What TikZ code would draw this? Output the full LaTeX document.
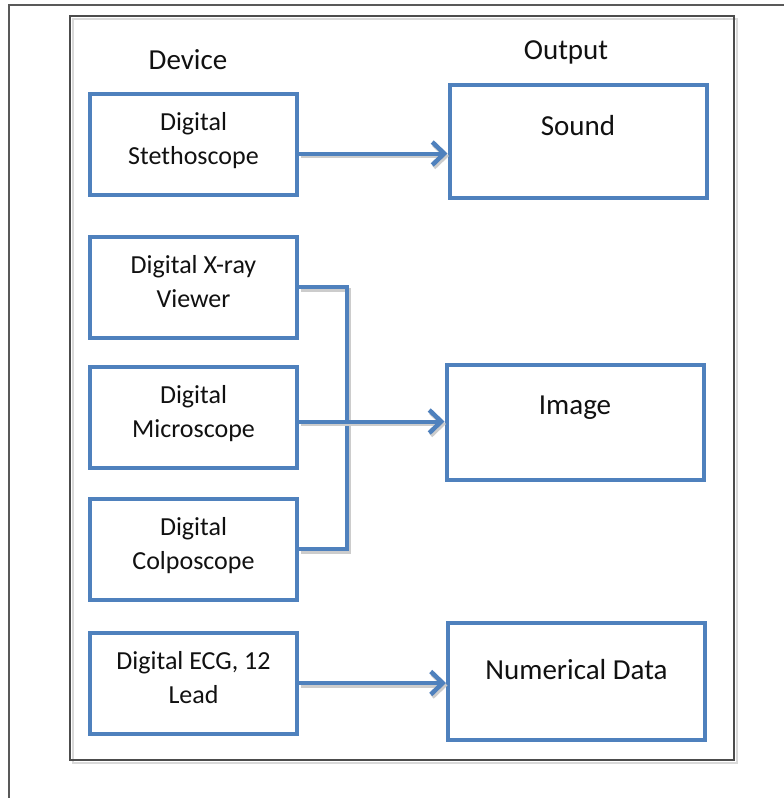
\documentclass[tikz,border=0pt]{standalone}
\usepackage{fontspec}
\setmainfont{Carlito}
\usetikzlibrary{arrows.meta}
\definecolor{boxblue}{HTML}{4F81BD}
\definecolor{inkgray}{HTML}{111111}
\begin{document}
\begin{tikzpicture}[x=1pt,y=-1pt,
  devbox/.style={draw=boxblue, line width=4pt, fill=white, minimum width=207pt,
    minimum height=101pt, inner sep=0pt, align=center, text depth=12pt,
    font=\fontsize{26}{34}\selectfont, text=inkgray},
  outbox/.style={draw=boxblue, line width=4pt, fill=white, minimum width=257pt, inner sep=0pt},
  outlabel/.style={font=\fontsize{29}{35}\selectfont, text=inkgray},
  header/.style={font=\fontsize{29}{35}\selectfont, text=inkgray},
  link/.style={draw=boxblue, line width=4pt,
    preaction={draw=black!20, line width=4pt, transform canvas={xshift=1.5pt,yshift=-2.5pt}}},
  arrowlink/.style={link, -{Straight Barb[length=12pt,width=23pt,line width=4.5pt]}}
]
\useasboundingbox (0,0) rectangle (784,798);
\fill[white] (0,0) rectangle (784,798);

% outer page frame
\draw[black!65, line width=1.8pt] (9,800) -- (9,5) -- (786,5);

% inner frame with a light shadow
\draw[black!15, line width=2pt] (72.5,18.5) rectangle (736.5,762.5);
\draw[black!70, line width=1.3pt] (70,16) rectangle (734,760);

% column headings
\node[header] (devhead) at (188,60) {Device};
\node[header] (outhead) at (566,52) {Output};

% devices
\node[devbox] (steth) at (193.5,144.5) {Digital\\Stethoscope};
\node[devbox] (xray)  at (193.5,287)   {Digital X-ray\\Viewer};
\node[devbox] (micro) at (193.5,417.5) {Digital\\Microscope};
\node[devbox] (colpo) at (193.5,549)   {Digital\\Colposcope};
\node[devbox] (ecg)   at (193.5,683)   {Digital ECG, 12\\Lead};

% outputs
\node[outbox, minimum height=113pt] (sound) at (578,141.5) {};
\node[outlabel] (soundtxt) at ([yshift=-43pt]sound.north) {Sound};
\node[outbox, minimum height=115pt] (image) at (575,422.5) {};
\node[outlabel] (imagetxt) at ([yshift=-45pt]image.north) {Image};
\node[outbox, minimum height=117pt] (numer) at (576.5,681.5) {};
\node[outlabel] (numertxt) at ([yshift=-49pt]numer.north) {Numerical Data};

% connectors
\coordinate (bus) at (347,0);
\draw[arrowlink] ([yshift=-9pt]steth.east) -- ([yshift=-9pt]steth.east -| sound.west);
\draw[link] (xray.east) -- (xray.east -| bus) -- (colpo.east -| bus) -- (colpo.east);
\draw[arrowlink] ([yshift=-4pt]micro.east) -- ([yshift=-4pt]micro.east -| image.west);
\draw[arrowlink] (ecg.east) -- (ecg.east -| numer.west);
\end{tikzpicture}
\end{document}
